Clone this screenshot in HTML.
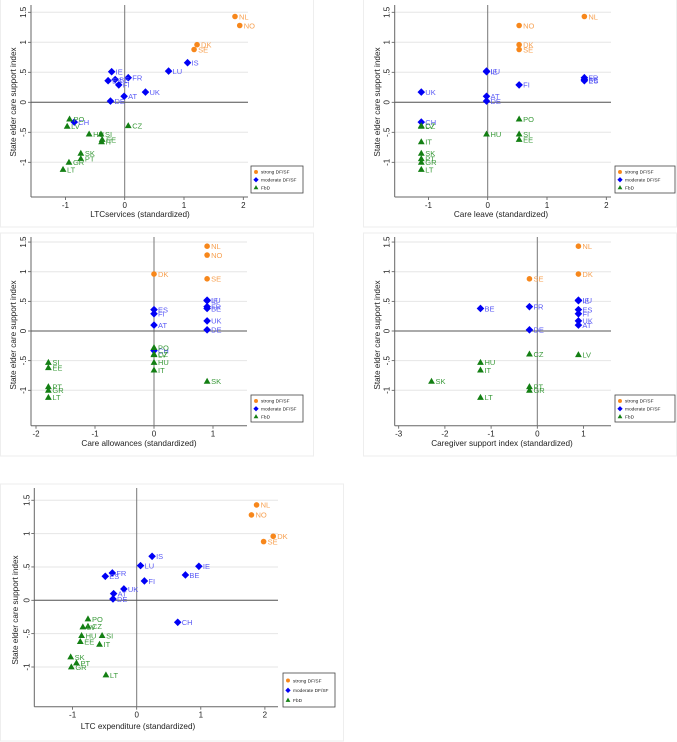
<!DOCTYPE html>
<html><head><meta charset="utf-8">
<style>
body{margin:0;background:#fff;}
svg{display:block;font-family:"Liberation Sans",sans-serif;}
</style></head>
<body>
<svg id="c" width="677" height="742" viewBox="0 0 677 742" xmlns="http://www.w3.org/2000/svg">
<rect x="0" y="0" width="677" height="742" fill="#fff"/>
<rect x="0.5" y="-1" width="313" height="228" fill="none" stroke="#eeeeee"/>
<rect x="363.5" y="-1" width="313" height="228" fill="none" stroke="#eeeeee"/>
<rect x="0.5" y="233" width="313" height="223" fill="none" stroke="#eeeeee"/>
<rect x="363.5" y="233" width="313" height="223" fill="none" stroke="#eeeeee"/>
<rect x="0.5" y="484" width="343" height="257" fill="none" stroke="#eeeeee"/>
</svg>
<script>
const countries=["NL","NO","DK","SE","IS","LU","IE","FR","BE","ES","FI","UK","AT","DE","CH","PO","CZ","LV","HU","SI","EE","IT","SK","PT","GR","LT"];
const groups=["s","s","s","s","m","m","m","m","m","m","m","m","m","m","m","f","f","f","f","f","f","f","f","f","f","f"];
const supportIndex=[1.43,1.28,0.96,0.88,0.66,0.52,0.51,0.41,0.38,0.36,0.29,0.17,0.10,0.02,-0.33,-0.28,-0.39,-0.40,-0.53,-0.53,-0.62,-0.66,-0.85,-0.94,-1.00,-1.12];
const ltcServices=[1.86,1.94,1.22,1.17,1.06,0.74,-0.22,0.06,-0.16,-0.28,-0.10,0.35,-0.01,-0.24,-0.85,-0.93,0.06,-0.97,-0.60,-0.40,-0.38,-0.39,-0.74,-0.74,-0.94,-1.04];
const careLeave=[1.63,0.53,0.53,0.53,null,-0.02,-0.02,1.63,1.63,1.63,0.53,-1.12,-0.02,-0.02,-1.12,0.53,-1.12,-1.12,-0.02,0.53,0.53,-1.12,-1.12,-1.12,-1.12,-1.12];
const careAllowances=[0.9,0.9,0,0.9,null,0.9,0.9,0.9,0.9,0,0,0.9,0,0.9,0,0,0,0,0,-1.79,-1.79,0,0.9,-1.79,-1.79,-1.79];
const caregiverSupport=[0.89,null,0.89,-0.17,null,0.89,0.89,-0.17,-1.23,0.89,0.89,0.89,0.89,-0.17,null,null,-0.17,0.89,-1.23,null,null,-1.23,-2.29,-0.17,-0.17,-1.23];
const ltcExpenditure=[1.87,1.79,2.13,1.98,0.24,0.06,0.97,-0.38,0.76,-0.49,0.12,-0.20,-0.36,-0.37,0.64,-0.76,-0.76,-0.84,-0.86,-0.54,-0.88,-0.58,-1.03,-0.94,-1.02,-0.48];
const yTicks=[-1,-0.5,0,0.5,1,1.5];
const yTickLabels=["-1","-.5","0",".5","1","1.5"];
const xTicks1=[-1,0,1,2],xTicks2=[-1,0,1,2],xTicks3=[-2,-1,0,1],xTicks4=[-3,-2,-1,0,1],xTicks5=[-1,0,1,2];
const legendLabels=["strong DF/SF","moderate DF/SF","FbD"];
const xTitles=["LTCservices (standardized)","Care leave (standardized)","Care allowances (standardized)","Caregiver support index (standardized)","LTC expenditure (standardized)"];

const NS="http://www.w3.org/2000/svg";
const svg=document.getElementById('c');
function el(tag,attrs,parent){const e=document.createElementNS(NS,tag);for(const k in attrs)e.setAttribute(k,attrs[k]);(parent||svg).appendChild(e);return e;}
const colors={s:"#f7871b",m:"#0000f5",f:"#137f13"};
const lcolors={s:"#f7a050",m:"#5a5af5",f:"#3a9a3a"};

const panels=[
 {xs:ltcServices,ticks:xTicks1,L:31,R:248,T:5,B:197,x0:124.7,xu:59.3,y0:102.3,yu:60,lg:[251,166,52,27],xt:[140,217],yt:[16,102]},
 {xs:careLeave,ticks:xTicks2,L:394.7,R:611,T:5,B:197,x0:487.7,xu:59.3,y0:102.3,yu:60,lg:[615,166,60,27],xt:[501,217],yt:[380,102]},
 {xs:careAllowances,ticks:xTicks3,L:31,R:247,T:237,B:425.7,x0:154,xu:59,y0:331,yu:59.3,lg:[251,395,52,27],xt:[139,446],yt:[16,335]},
 {xs:caregiverSupport,ticks:xTicks4,L:394.7,R:611,T:237,B:425.7,x0:537.3,xu:46.2,y0:331,yu:59.3,lg:[615,395,60,27],xt:[502,446],yt:[380,335]},
 {xs:ltcExpenditure,ticks:xTicks5,L:34.3,R:278,T:488,B:706.7,x0:136.7,xu:64.1,y0:600.3,yu:66.7,lg:[283,673,52,34],xt:[138,729],yt:[18,610]}
];

function marker(g,grp,cx,cy,s,parent){
  let m;
  if(grp==="s") m=el('circle',{cx:cx,cy:cy,r:2.8*s,fill:colors.s},parent);
  else if(grp==="m") m=el('polygon',{points:`${cx},${cy-3.8*s} ${cx+3.8*s},${cy} ${cx},${cy+3.8*s} ${cx-3.8*s},${cy}`,fill:colors.m},parent);
  else m=el('polygon',{points:`${cx},${cy-3.6*s} ${cx+3.4*s},${cy+2.4*s} ${cx-3.4*s},${cy+2.4*s}`,fill:colors.f},parent);
  return m;
}

panels.forEach((p,pi)=>{
  const X=v=>p.x0+v*p.xu, Y=v=>p.y0-v*p.yu;
  const g=el('g',{});
  
  
  yTicks.forEach((t,i)=>{
    const gl=el('line',{x1:p.L,x2:p.R,y1:Y(t),y2:Y(t),stroke:"#e6e6e6","stroke-width":1},g);
    
    
    el('line',{x1:p.L-3,x2:p.L,y1:Y(t),y2:Y(t),stroke:"#555","stroke-width":0.8},g);
    const tl=el('text',{x:p.L-5,y:Y(t),"font-size":8,fill:"#222","text-anchor":"middle",transform:`rotate(-90 ${p.L-5} ${Y(t)})`},g);
    tl.textContent=yTickLabels[i];
    
    
  });
  p.ticks.forEach(t=>{
    el('line',{x1:X(t),x2:X(t),y1:p.B,y2:p.B+3,stroke:"#555","stroke-width":0.8},g);
    const tl=el('text',{x:X(t),y:p.B+11,"font-size":8,fill:"#222","text-anchor":"middle"},g);
    tl.textContent=String(t);
    
    
  });
  const ya=el('line',{x1:p.L,x2:p.L,y1:p.T,y2:p.B,stroke:"#666","stroke-width":1},g);
  
  
  const xa=el('line',{x1:p.L,x2:p.R,y1:p.B,y2:p.B,stroke:"#666","stroke-width":1},g);
  
  
  const zx=el('line',{x1:X(0),x2:X(0),y1:p.T,y2:p.B,stroke:"#777","stroke-width":1},g);
  
  
  const zy=el('line',{x1:p.L,x2:p.R,y1:Y(0),y2:Y(0),stroke:"#555","stroke-width":1},g);
  
  
  const xt=el('text',{x:p.xt[0],y:p.xt[1],"font-size":8.2,fill:"#222","text-anchor":"middle"},g);
  xt.textContent=xTitles[pi];
  
  
  const yt=el('text',{x:p.yt[0],y:p.yt[1],"font-size":8.2,fill:"#222","text-anchor":"middle",transform:`rotate(-90 ${p.yt[0]} ${p.yt[1]})`},g);
  yt.textContent="State elder care support index";
  
  
  countries.forEach((c,i)=>{
    const xv=p.xs[i]; if(xv===null||xv===undefined) return;
    const cx=X(xv), cy=Y(supportIndex[i]);
    const m=marker(g,groups[i],cx,cy,1,g);
    
    
    const t=el('text',{x:cx+4,y:cy+2.8,"font-size":7.5,fill:lcolors[groups[i]]},g);
    t.textContent=c;
    
    
  });
  const [lx,ly,lw,lh]=p.lg;
  const lgG=el('g',{},g);
  
  
  el('rect',{x:lx,y:ly,width:lw,height:lh,fill:"#fff",stroke:"#444","stroke-width":0.8},lgG);
  ["s","m","f"].forEach((k,j)=>{
    const ry=ly+lh*(0.22+0.29*j);
    marker(lgG,k,lx+5,ry,0.7,lgG);
    const t=el('text',{x:lx+10,y:ry+1.8,"font-size":4.8,fill:"#222"},lgG);
    t.textContent=legendLabels[j];
    
    
  });
});
</script>
</body></html>
